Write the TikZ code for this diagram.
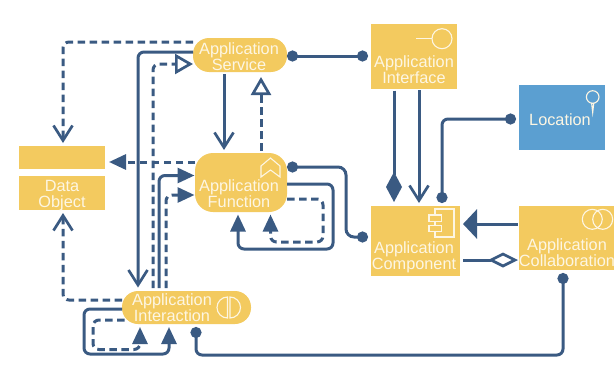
\documentclass[tikz,border=0pt]{standalone}
\usepackage{fontspec}
\setmainfont{Liberation Sans}
\usetikzlibrary{arrows.meta,calc}
\definecolor{navy}{HTML}{3A5A82}
\definecolor{appyellow}{HTML}{F3CA5F}
\definecolor{locblue}{HTML}{5B9FD1}
\definecolor{ink}{HTML}{FDF6E3}
\tikzset{
  x=1pt,y=-1pt,
  rectbox/.style={fill=appyellow,draw=none,inner sep=0pt,outer sep=0pt},
  txt/.style={text=ink,align=center,inner sep=0pt,font=\fontsize{16.3}{16}\selectfont},
  icon/.style={draw=ink,line width=1.1pt,fill=none},
  conn/.style={draw=navy,line width=3pt,rounded corners=6pt},
  dashline/.style={conn,dash pattern=on 7.5pt off 4.5pt},
  barb/.style={-{Straight Barb[length=15pt,width=19pt,line width=2.7pt]}},
  head/.style={-{Triangle[length=17pt,width=15pt]}},
  hollowtri/.style={-{Triangle[open,length=18pt,width=20pt,fill=white,line width=2.7pt]}},
  bigtri/.style={-{Triangle[length=14pt,width=29pt]}},
  soliddia/.style={-{Diamond[length=30pt,width=16pt]}},
  opendia/.style={-{Diamond[open,length=30pt,width=15pt,fill=white,line width=2.7pt]}},
  dots/.style={{Circle[length=11pt]}-{Circle[length=11pt]}},
}
\begin{document}
\begin{tikzpicture}
\useasboundingbox (0,0) rectangle (614,367);
% shapes
\node[rectbox,rounded corners=16pt,minimum width=94pt,minimum height=34pt] (svc) at (240,55) {};
\node[rectbox,rounded corners=18pt,minimum width=92pt,minimum height=59pt] (fn) at (241,182.5) {};
\node[rectbox,minimum width=86pt,minimum height=23pt] (dhead) at (62,157.5) {};
\node[rectbox,minimum width=86pt,minimum height=34pt] (dbody) at (62,193) {};
\node[rectbox,rounded corners=16pt,minimum width=129pt,minimum height=33pt] (inter) at (186.5,307.5) {};
\node[rectbox,minimum width=86pt,minimum height=65pt] (iface) at (414,56.5) {};
\node[rectbox,fill=locblue,minimum width=86pt,minimum height=65pt] (loc) at (562,117.5) {};
\node[rectbox,minimum width=89pt,minimum height=70pt] (comp) at (415.5,241) {};
\node[rectbox,minimum width=95pt,minimum height=64pt] (collab) at (566.5,238) {};
% labels
\node[txt] (tsvc) at ($(svc)+(-1,1.5)$) {Application\\Service};
\node[txt] (tfn) at ($(fn)+(-2,11.5)$) {Application\\Function};
\node[txt] (tdat) at ($(dbody)+(0,3)$) {Data\\Object};
\node[txt] (tint) at ($(inter)+(-14.5,0.5)$) {Application\\Interaction};
\node[txt] (tif) at ($(iface)+(0,13.5)$) {Application\\Interface};
\node[txt] (tloc) at ($(loc)+(-2,2)$) {Location};
\node[txt] (tcomp) at ($(comp)+(-1.5,16)$) {Application\\Component};
\node[txt] (tcol) at ($(collab)+(0.5,15)$) {Application\\Collaboration};
% icons
\draw[icon,line join=miter] ($(fn)+(20,-16.5)$) -- ++(9.5,-8) -- ++(9.5,8) -- ++(0,11) -- ++(-9.5,-7) -- ++(-9.5,7) -- cycle;
\draw[icon] ($(iface)+(28,-17.8)$) circle[radius=10pt];
\draw[icon] ($(iface)+(2,-17.8)$) -- ++(16,0);
\draw[icon] ($(loc)+(30.7,-20.5)$) circle[radius=6.3pt];
\draw[icon] ($(loc)+(29.6,-14.5)$) -- ++(1.1,9.5) -- ++(1.1,-9.5);
\draw[icon] ($(comp)+(19.5,-32)$) rectangle ++(19,28);
\draw[icon,fill=appyellow] ($(comp)+(13.5,-26)$) rectangle ++(12.7,6.7);
\draw[icon,fill=appyellow] ($(comp)+(13.5,-15.3)$) rectangle ++(12.7,6);
\draw[icon] ($(collab)+(25.8,-18.7)$) circle[radius=10pt];
\draw[icon] ($(collab)+(36.2,-18.7)$) circle[radius=10pt];
\draw[icon] ($(inter)+(41,-10.5)$) arc[start angle=90,end angle=270,radius=10.5pt] -- cycle;
\draw[icon] ($(inter)+(43.5,-10.5)$) arc[start angle=90,end angle=-90,radius=10.5pt] -- cycle;
% connectors
\draw[dashline,barb] ($(svc)+(-47,-13)$) -| ($(dhead)+(1,-14.5)$);
\draw[conn,barb] ($(svc)+(-47,-3)$) -| ($(inter)+(-48.5,-20)$);
\draw[dashline,hollowtri] ($(inter)+(-33.5,-19.5)$) |- ($(svc)+(-47,9)$);
\draw[conn,barb] ($(svc)+(-16,19)$) -- ($(fn)+(-17,-32.5)$);
\draw[dashline,hollowtri] ($(fn)+(20,-32)$) -- ($(svc)+(21,22)$);
\draw[dashline,head] ($(fn)+(-46,-20.5)$) -- ($(dhead)+(47,4.5)$);
\draw[conn,head] ($(inter)+(-27.5,-19.5)$) |- ($(fn)+(-46.5,-7)$);
\draw[dashline,head] ($(inter)+(-20.5,-19.5)$) |- ($(fn)+(-46.5,12.5)$);
\draw[dashline,barb] ($(inter)+(-64.5,-7.5)$) -| ($(dbody)+(1,20)$);
\draw[conn,head] ($(fn)+(46,1.5)$) -| ($(fn)+(92,66.5)$) -| ($(fn)+(-3,32)$);
\draw[dashline,head] ($(fn)+(46,16.5)$) -| ($(fn)+(82,59.5)$) -| ($(fn)+(29.5,32)$);
\draw[conn,head] ($(inter)+(-64.5,1.5)$) -| ($(inter)+(-102.5,46.5)$) -| ($(inter)+(-17.5,19.5)$);
\draw[dashline,head] ($(inter)+(-62,12.5)$) -| ($(inter)+(-93.5,42)$) -| ($(inter)+(-46.5,19.5)$);
\draw[conn,dots,rounded corners=8pt] ($(fn)+(46,-15.5)$) -| ($(comp)+(-69.5,-4)$) -- ($(comp)+(-47.5,-4)$);
\draw[conn,dots] ($(svc)+(47,1)$) -- ($(iface)+(-46,-0.5)$);
\draw[conn,soliddia] ($(iface)+(-20,34)$) -- ($(comp)+(-21.5,-39)$);
\draw[conn,barb] ($(iface)+(5,33.5)$) -- ($(comp)+(3.5,-38)$);
\draw[conn,dots] ($(loc)+(-46,1.5)$) -| ($(comp)+(26.5,-38)$);
\draw[conn,bigtri] ($(collab)+(-49,-14)$) -- ($(comp)+(47.5,-17)$);
\draw[conn,opendia] ($(comp)+(47.5,19)$) -- ($(collab)+(-48.5,22)$);
\draw[conn,dots] ($(collab)+(-3.5,35)$) -- ($(collab)+(-3.5,117)$) -| ($(inter)+(9.5,19.5)$);
\end{tikzpicture}
\end{document}
